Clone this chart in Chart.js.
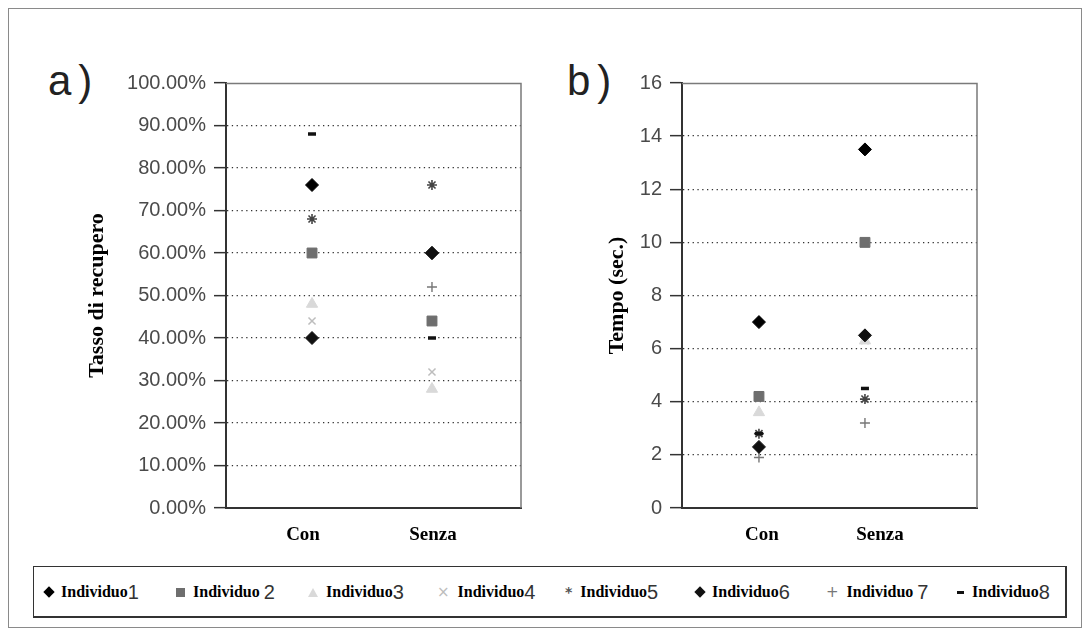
<!DOCTYPE html>
<html><head><meta charset="utf-8">
<script src="https://cdn.jsdelivr.net/npm/chart.js@4.4.0/dist/chart.umd.min.js"></script>
<style>
body{margin:0;background:#fff;width:1089px;height:635px;overflow:hidden;position:relative}
#frame{position:absolute;left:8px;top:8px;width:1074px;height:620px;border:1px solid #8a8a8a;box-sizing:border-box}
.panel{position:absolute;font-family:"Liberation Sans",Arial,sans-serif;font-size:42px;color:#222;line-height:1;letter-spacing:7px}
#wa{position:absolute;left:80px;top:60px;width:450px;height:490px}
#wb{position:absolute;left:600px;top:60px;width:386px;height:490px}
#legend{position:absolute;left:33px;top:566px;width:1034px;height:52px;border:1px solid #333;border-right-width:2px;border-bottom-width:2px;box-sizing:border-box}
.li{position:absolute;top:14px;height:22px;display:flex;align-items:center;white-space:nowrap}
.lt{font-family:"Liberation Serif","Times New Roman",serif;font-weight:bold;font-size:16px;color:#000}
.ln{font-family:"Liberation Sans",Arial,sans-serif;font-size:20px;color:#333}
.mk{display:inline-block;margin-right:8px}
</style>
</head><body>
<div id="frame"></div>
<div class="panel" style="left:48px;top:60px">a)</div>
<div class="panel" style="left:567px;top:60px">b)</div>
<div id="wa"><canvas id="ca"></canvas></div>
<div id="wb"><canvas id="cb"></canvas></div>
<div id="legend"></div>
<script>
// ---- data ----
const categories = ["Con", "Senza"];
const catX = [1, 2];
const individui = ["Individuo1","Individuo 2","Individuo3","Individuo4","Individuo5","Individuo6","Individuo 7","Individuo8"];
// a) Tasso di recupero (%) : [Con, Senza]
const rec1 = [76, 60];
const rec2 = [60, 44];
const rec3 = [48, 28];
const rec4 = [44, 32];
const rec5 = [68, 76];
const rec6 = [40, 60];
const rec7 = [40, 52];
const rec8 = [88, 40];
// b) Tempo (sec.) : [Con, Senza]
const tem1 = [7.0, 13.5];
const tem2 = [4.2, 10.0];
const tem3 = [3.6, 6.3];
const tem4 = [4.2, 6.3];
const tem5 = [2.8, 4.1];
const tem6 = [2.3, 6.5];
const tem7 = [1.9, 3.2];
const tem8 = [2.8, 4.5];
const yTicksA = [0,10,20,30,40,50,60,70,80,90,100];
const yTicksB = [0,2,4,6,8,10,12,14,16];

// ---- styles (z: lower = drawn on top) ----
const styles = [
  {pointStyle:'rectRot', radius:6.5, bg:'#000', bc:'#000', bw:1, z:3},
  {pointStyle:'rect', radius:7, bg:'#6e6e6e', bc:'#6e6e6e', bw:1, z:4},
  {pointStyle:'triangle', radius:6.5, bg:'#d9d9d9', bc:'#d9d9d9', bw:1, z:7},
  {pointStyle:'crossRot', radius:5, bg:'#bdbdbd', bc:'#bdbdbd', bw:1.5, z:8},
  {pointStyle:'star', radius:5, bg:'#444', bc:'#444', bw:1.6, z:5},
  {pointStyle:'rectRot', radius:6.5, bg:'#111', bc:'#111', bw:1, z:2},
  {pointStyle:'cross', radius:5, bg:'#777', bc:'#777', bw:1.4, z:6},
  {pointStyle:'line', radius:4, bg:'#111', bc:'#111', bw:3.5, z:1}
];

function makeDatasets(series){
  return series.map((vals,i)=>({
    label: individui[i],
    data: vals.map((v,j)=>({x:catX[j], y:v})),
    pointStyle: styles[i].pointStyle,
    pointRadius: styles[i].radius,
    pointBackgroundColor: styles[i].bg,
    pointBorderColor: styles[i].bc,
    pointBorderWidth: styles[i].bw,
    order: styles[i].z
  }));
}

const framePlugin = {
  id:'frame',
  beforeDatasetsDraw(chart){
    const a = chart.chartArea, c = chart.ctx;
    c.save();
    c.strokeStyle = '#7a7a7a'; c.lineWidth = 1.5;
    c.beginPath();
    c.moveTo(a.left, a.top + 0.5); c.lineTo(a.right, a.top + 0.5); c.lineTo(a.right, a.bottom);
    c.stroke();
    c.restore();
  }
};

function makeChart(id, series, cfg){
  const gridColor = (ctx) => (ctx.tick && (ctx.tick.value === cfg.yMin || ctx.tick.value === cfg.yMax)) ? 'rgba(0,0,0,0)' : '#333';
  return new Chart(document.getElementById(id), {
    type:'scatter',
    data:{datasets: makeDatasets(series)},
    plugins:[framePlugin],
    options:{
      responsive:true, maintainAspectRatio:false, animation:false,
      layout:{padding:{top:23, right:9, left:0, bottom:0}},
      plugins:{legend:{display:false}, tooltip:{enabled:false}},
      scales:{
        x:{
          type:'linear', min:cfg.xMin, max:cfg.xMax,
          afterBuildTicks:(s)=>{ s.ticks = cfg.xLabelPos.map(v=>({value:v})); },
          afterFit:(s)=>{ s.height = 42; },
          grid:{display:false},
          border:{display:true, color:'#333', width:2},
          ticks:{autoSkip:false, maxRotation:0, padding:8,
            callback:(v,i)=>categories[i],
            font:{family:'"Liberation Serif","Times New Roman",serif', weight:'bold', size:19},
            color:'#000'}
        },
        y:{
          min:cfg.yMin, max:cfg.yMax,
          afterBuildTicks:(s)=>{ s.ticks = cfg.yTicks.map(v=>({value:v})); },
          afterFit:(s)=>{ s.width = cfg.yWidth; },
          grid:{display:true, color:gridColor, tickColor:'#333', lineWidth:1.3, tickLength:12, tickWidth:1.5},
          border:{display:true, color:'#333', width:2, dash:[1.3,3.5]},
          ticks:{autoSkip:false, padding:8, callback:cfg.fmt,
            font:{family:'"Liberation Sans",Arial,sans-serif', size:20}, color:'#4a4a4a'},
          title:{display:true, text:cfg.title, padding:{top:4,bottom:0},
            font:{family:'"Liberation Serif","Times New Roman",serif', weight:'bold', size:22}, color:'#000'}
        }
      }
    }
  });
}

makeChart('ca', [rec1,rec2,rec3,rec4,rec5,rec6,rec7,rec8], {
  xMin:0.283, xMax:2.742, xLabelPos:[0.925, 2.008],
  yMin:0, yMax:100, yTicks:yTicksA, yWidth:146,
  fmt:(v)=>Number(v).toFixed(2)+'%', title:'Tasso di recupero'
});
makeChart('cb', [tem1,tem2,tem3,tem4,tem5,tem6,tem7,tem8], {
  xMin:0.274, xMax:3.057, xLabelPos:[1.028, 2.142],
  yMin:0, yMax:16, yTicks:yTicksB, yWidth:82,
  fmt:(v)=>String(v), title:'Tempo (sec.)'
});

// ---- HTML legend ----
const legendX = [45,176,308,437,565,696,826,957];
const markerHtml = [
  '<span class="mk" style="width:8px;height:8px;background:#000;transform:rotate(45deg)"></span>',
  '<span class="mk" style="width:9px;height:9px;background:#6e6e6e"></span>',
  '<span class="mk" style="width:0;height:0;border-left:5px solid transparent;border-right:5px solid transparent;border-bottom:9px solid #d9d9d9"></span>',
  '<span class="mk" style="font:15px \'DejaVu Sans\';color:#bdbdbd">×</span>',
  '<span class="mk" style="font:bold 14px \'DejaVu Sans\';color:#555">*</span>',
  '<span class="mk" style="width:8px;height:8px;background:#111;transform:rotate(45deg)"></span>',
  '<span class="mk" style="font:15px \'DejaVu Sans\';color:#777">+</span>',
  '<span class="mk" style="width:7px;height:3px;background:#111"></span>'
];
const leg = document.getElementById('legend');
individui.forEach((name,i)=>{
  const m = name.match(/^(Individuo)(\s?)(\d)$/);
  const d = document.createElement('div');
  d.className = 'li';
  d.style.left = (legendX[i]-33-1) + 'px';
  d.innerHTML = markerHtml[i] + '<span class="lt">' + m[1] + (m[2] ? '&nbsp;' : '') + '</span><span class="ln">' + m[3] + '</span>';
  leg.appendChild(d);
});
</script>
</body></html>
